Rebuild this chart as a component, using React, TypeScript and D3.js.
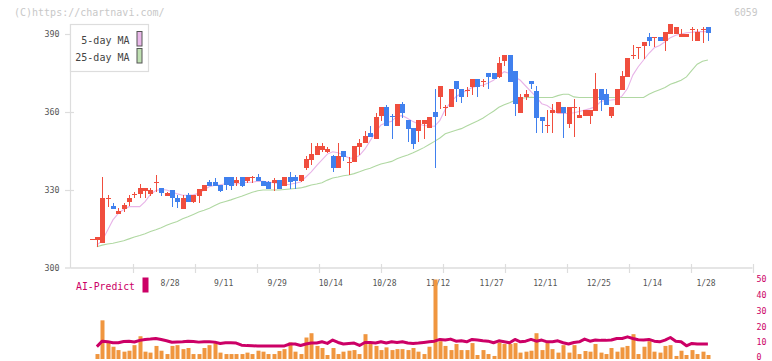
import React from 'react';
import * as d3 from 'd3';

// ---- price candles (index 0..115) ----
const opens = [311.0,310.8,309.7,326.6,323.8,320.9,322.7,325.5,328.3,328.5,329.7,328.5,332.8,330.6,327.8,330.0,326.8,322.7,328.1,325.5,327.8,329.7,333.2,333.0,331.9,334.9,334.9,332.8,334.9,333.6,334.7,334.9,333.5,333.0,332.8,333.8,331.7,334.9,334.9,333.5,338.5,341.7,343.5,345.4,344.7,343.1,338.6,345.0,340.5,340.6,346.7,348.0,352.0,349.6,358.5,361.8,358.6,354.7,363.1,356.9,353.7,352.8,355.4,353.7,360.0,365.6,361.6,361.8,371.9,368.7,368.0,369.7,372.6,371.5,374.9,374.9,373.3,379.7,381.9,375.8,359.7,365.6,371.9,368.2,358.0,354.9,359.7,359.7,361.8,355.4,361.6,357.8,358.5,358.5,360.4,368.8,366.9,358.6,362.7,368.5,373.6,381.7,384.7,385.5,388.7,388.5,388.7,387.4,389.9,389.9,388.7,388.7,391.6,387.4,391.6,392.6];
const highs = [311.1,311.8,335.1,328.1,325.1,323.0,324.9,328.0,329.3,332.2,330.7,330.9,335.8,330.6,329.3,330.0,328.1,328.0,328.7,328.1,330.3,331.9,333.8,334.5,331.9,334.9,334.9,334.9,334.9,334.9,335.4,336.0,333.5,333.6,334.5,333.8,335.1,337.0,335.8,335.8,343.1,348.0,348.0,348.1,346.5,343.5,348.0,345.0,342.8,346.9,349.6,352.8,354.5,359.5,361.8,362.8,359.2,363.1,363.8,356.9,353.7,356.9,356.9,358.0,368.7,370.0,362.8,368.8,371.9,368.7,369.8,372.6,372.6,372.6,374.9,374.9,381.3,381.9,381.9,375.8,366.9,368.6,371.9,370.0,358.0,360.8,363.1,363.7,361.8,361.8,364.9,361.8,360.8,360.8,375.1,368.8,368.8,362.0,368.8,375.9,380.7,385.8,385.0,386.8,390.2,388.7,388.7,390.6,393.8,392.6,392.0,390.0,392.6,391.8,392.6,392.6];
const lows = [310.9,308.2,309.5,323.6,322.8,320.8,321.7,323.8,326.8,326.8,326.8,327.7,329.3,327.8,327.8,323.6,323.0,322.7,325.5,324.9,324.9,329.7,331.7,331.5,329.3,329.9,329.9,331.7,331.0,332.5,332.8,333.5,331.7,330.4,329.7,330.4,331.7,330.4,330.4,333.0,337.7,339.6,343.5,344.6,344.2,336.9,338.6,341.0,335.8,340.6,343.3,348.0,350.5,349.6,356.7,354.7,349.6,354.7,357.7,348.6,345.7,348.6,349.5,353.7,338.6,361.0,358.5,361.8,363.7,363.5,365.6,366.4,365.7,369.7,368.7,372.6,373.0,377.8,371.7,358.6,359.7,364.6,368.7,351.8,351.8,351.8,351.8,359.7,349.9,353.7,350.5,357.8,358.5,355.4,360.4,360.4,362.7,357.8,362.7,368.5,373.6,380.4,380.4,380.4,385.5,384.9,387.4,383.6,389.9,389.9,388.7,388.7,387.4,387.4,386.7,387.4];
const closes = [311.0,311.8,327.0,327.0,322.8,322.0,324.2,327.1,328.6,330.9,330.6,329.9,333.1,328.7,329.0,326.8,325.5,327.1,325.5,328.1,330.3,331.9,331.7,331.7,329.7,331.9,331.7,333.8,331.7,334.9,334.9,333.5,331.7,330.5,333.8,330.5,335.1,333.2,333.5,335.8,341.9,343.8,346.9,346.9,345.6,338.3,343.1,342.8,340.7,346.9,348.2,350.8,350.5,358.2,361.8,354.7,358.0,363.1,359.7,353.6,347.7,356.9,356.9,358.0,358.0,370.0,361.8,368.8,368.7,365.6,368.3,372.6,369.7,371.8,373.6,372.6,378.7,381.9,371.7,363.0,365.9,367.1,370.7,357.8,356.7,355.1,360.8,363.7,359.7,361.8,361.9,358.8,360.8,360.8,368.8,364.6,362.7,362.0,368.8,373.8,380.7,382.1,385.0,386.8,387.4,388.8,387.4,390.6,393.8,392.6,390.0,390.0,391.8,390.9,391.8,390.5];

// ---- moving averages ----
const ma5 = [null,308.8,310.5,314.5,318.5,321,322.5,323.6,323.6,323.6,325.5,328.3,329.8,330.2,330,329.3,328.5,328,328,328.2,328.7,330,331.3,331.8,332,332.4,332.4,332.3,332.6,333,333,333.4,333.3,333.1,332.8,332.5,332,332.2,332.6,333.1,335,337,339.4,341.6,343.8,344.7,344.3,343.5,342.3,342.2,343.3,345.7,349,352.2,355,355.9,356.4,358.4,358.6,357.5,356.3,355.4,354.8,354.6,354.5,356.8,361,363.7,365.9,367.2,368.3,369.4,370,370.3,371.2,372.2,374,375.5,374.8,373.5,372.2,370,367.8,365.7,363.2,362.5,361,359.4,359.4,359.5,359.7,360.2,360.8,361.3,362,364,364.5,364.6,364.8,366.2,369,374.2,377.4,380,382.6,384.7,385.6,387,388.6,389.5,390,390.5,390.7,390.9,390.9,390.9];
const ma25 = [null,308.2,308.8,309.2,309.5,310,310.5,311.2,311.9,312.5,313.2,314,314.7,315.5,316.4,317.2,317.9,318.9,319.7,320.6,321.5,322.2,323,324,325,325.6,326.2,326.9,327.6,328.4,329.1,329.7,330,330,330,330,330.2,330.4,330.6,330.8,331.3,331.9,332.3,332.8,333.8,334.6,335,335.5,335.8,336.3,337,337.8,338.4,339.2,340,340.5,341,342,342.8,343.5,344.3,345.3,346.3,347.5,348.7,350,351.6,352.3,353,353.6,354.6,355.6,356.5,357.6,359,360.3,361.8,362.8,363.6,364.5,365.2,365.5,365.7,365.6,365.6,365.6,365.6,366.3,366.8,366.8,365.8,365.6,365.6,365.6,365.6,365.6,365.6,365.6,365.6,365.6,365.6,365.6,365.6,365.6,366.8,367.8,368.6,369.4,370.7,371.4,372.2,373.5,376,378.4,379.5,380];

// ---- AI-Predict panel ----
const aiBars = [null,2.8,24,9.9,7.4,5.3,4.3,4.9,8.4,14,4.3,3.7,7.9,4.9,2.8,7.9,8.4,5.9,6.6,2.8,2.8,6.6,8.4,9.9,3.7,2.8,2.8,2.8,2.8,3.7,2.8,4.9,4.3,2.8,2.8,4.7,5.9,10.1,4.3,2.8,13.2,15.9,7.9,6.6,2.2,6.6,2.8,4.3,4.9,5.3,2.8,15.3,10.1,7.9,5.3,7,5.3,5.9,5.9,5.3,6.6,4.3,2.8,7.4,49.7,10.9,7.9,5.3,9.1,5.3,5.3,9.7,2.2,5.3,2.8,1.6,10.1,9.1,9.1,9.7,3.7,4.3,4.9,15.9,5.3,9.7,5.9,3.7,8.4,3.7,8.4,2.8,4.7,4.3,9.1,3.7,2.8,6.6,4.3,7,7.9,15.3,2.8,7.4,10.9,4.3,3.7,7.9,8.4,1.6,4.9,2.2,5.3,2.8,4.3,2.2];
const aiLine = [null,7.5,10.9,10.6,9.9,9.9,10.7,10.9,10.4,11.4,12,12.2,12.6,12,11.2,10.2,10.4,10.6,10.9,10.7,10.3,10.5,10.5,10.3,9.4,9.9,9.9,9.7,8.4,8.1,8.0,7.9,7.9,7.9,7.9,7.9,7.9,9.1,9.1,8.2,9.1,9.7,9.7,10.5,9.5,11.6,10.1,9.1,9.5,9.7,8.2,10.1,10.1,9.7,10.5,9.7,10.5,10.1,10.5,9.7,9.5,9.7,10.1,10.5,10.9,12,11.6,12.2,10.9,11.1,10.5,12,11.6,11.1,10.9,9.9,11.1,10.5,9.9,12,10.5,10.9,12,10.9,11.6,10.5,10.5,11.1,9.9,9.1,10.1,10.5,12.2,10.9,11.6,11.4,11.4,11.6,12.6,12.6,13.6,12.6,11.8,11.6,12,10.9,10.5,11.6,13.2,10.9,10.5,8,9.5,9.1,9.1,9.1];

// ---- axis labels ----
const xLabels = ['8/28','9/11','9/29','10/14','10/28','11/12','11/27','12/11','12/25','1/14','1/28'];
const xLabelIdx = [14,24,34,44,54,64,74,84,94,104,114];
const yTicks = [300,330,360,390];
const aiTicks = [0,10,20,30,40,50];

const RED = '#f04e3e';
const BLUE = '#4080ee';
const MAG = '#cc0066';
const ORANGE = '#f0963f';
const MONO = '"DejaVu Sans Mono", "Liberation Mono", monospace';

export default function App() {
  const n = closes.length;
  const x = d3.scaleLinear().domain([0, n - 1]).range([91.5, 707.9]);
  const y = d3.scaleLinear().domain([300, 390]).range([268, 34]);
  const yv = d3.scaleLinear().domain([0, 50]).range([358.5, 279]);
  const xt = d3.scaleLinear().domain([0, 11]).range([70.5, 752.5]);

  const maLine = d3.line<number | null>()
    .defined((d) => d != null)
    .x((_, i) => x(i))
    .y((d) => y(d as number));
  const aiPath = d3.line<number | null>()
    .defined((d) => d != null)
    .x((_, i) => x(i))
    .y((d) => yv(d as number));

  const cx = (i: number) => Math.round(x(i));

  return (
    <svg width={772} height={361} style={{ position: 'absolute', left: 0, top: 0, background: '#fff' }}
      fontFamily={MONO}>
      <text x={14} y={15.5} fontSize={10} fill="#c8c8c8">(C)https://chartnavi.com/</text>
      <text x={757.5} y={15.5} fontSize={9.7} fill="#c8c8c8" textAnchor="end">6059</text>

      {/* axes */}
      <line x1={70.5} x2={70.5} y1={24} y2={268} stroke="#dddddd" strokeWidth={1.2} />
      <line x1={70.5} x2={752.5} y1={268} y2={268} stroke="#dddddd" strokeWidth={1.4} />
      {d3.range(1, 12).map((k) => (
        <line key={'xt' + k} x1={Math.round(xt(k)) + 0.5} x2={Math.round(xt(k)) + 0.5} y1={264} y2={273} stroke="#dddddd" strokeWidth={1.2} />
      ))}
      {yTicks.map((t) => (
        <g key={'yt' + t}>
          {t !== 300 && <line x1={65} x2={74} y1={Math.round(y(t)) + 0.5} y2={Math.round(y(t)) + 0.5} stroke="#dddddd" strokeWidth={1.2} />}
          {t === 300 && <line x1={65} x2={70.5} y1={268} y2={268} stroke="#dddddd" strokeWidth={1.4} />}
          <text x={59.5} y={y(t) + 3} fontSize={8.3} fill="#555" textAnchor="end">{t}</text>
        </g>
      ))}
      {xLabels.map((lab, k) => (
        <text key={lab} x={x(xLabelIdx[k] + 0.65)} y={285.5} fontSize={8} fill="#555" textAnchor="middle">{lab}</text>
      ))}

      {/* moving averages */}
      <path d={maLine(ma25) || ''} fill="none" stroke="#b0d8a2" strokeWidth={1.1} />
      <path d={maLine(ma5) || ''} fill="none" stroke="#e8b4e8" strokeWidth={1.1} />

      {/* candles */}
      {closes.map((c, i) => {
        const o = opens[i];
        const up = c >= o;
        const col = up ? RED : BLUE;
        const px = cx(i);
        const top = Math.round(y(Math.max(o, c)));
        const bot = Math.round(y(Math.min(o, c)));
        return (
          <g key={'c' + i}>
            <line x1={px + 0.5} x2={px + 0.5} y1={Math.round(y(highs[i]))} y2={Math.round(y(lows[i]))} stroke={col} strokeWidth={1} />
            <rect x={px - 2} y={top} width={5} height={Math.max(1, bot - top)} fill={col} />
          </g>
        );
      })}

      {/* legend */}
      <rect x={70.5} y={24.5} width={78} height={47} fill="#fff" stroke="#dddddd" strokeWidth={1.2} />
      <text x={129.5} y={44.3} fontSize={10} fill="#444" textAnchor="end">5-day MA</text>
      <text x={129.5} y={60.5} fontSize={10} fill="#444" textAnchor="end">25-day MA</text>
      <rect x={137} y={31.5} width={5} height={14.5} fill="#eab8ea" stroke="#555" strokeWidth={1} />
      <rect x={137} y={48.5} width={5} height={14.5} fill="#bfe0b2" stroke="#555" strokeWidth={1} />

      {/* AI-Predict panel */}
      <text x={76} y={290} fontSize={9.8} fill={MAG}>AI-Predict</text>
      <rect x={142.5} y={277.5} width={6} height={15} fill={MAG} />
      {aiTicks.map((t) => (
        <text key={'ai' + t} x={756.5} y={Math.min(yv(t) + 2.8, 360)} fontSize={8.3} fill={MAG}>{t}</text>
      ))}
      {aiBars.map((v, i) => v == null ? null : (
        <rect key={'b' + i} x={cx(i) - 1.5} y={yv(v)} width={4} height={yv(0) - yv(v) + 0.5} fill={ORANGE} />
      ))}
      <path d={aiPath(aiLine) || ''} fill="none" stroke={MAG} strokeWidth={3} strokeLinejoin="round" />
    </svg>
  );
}
